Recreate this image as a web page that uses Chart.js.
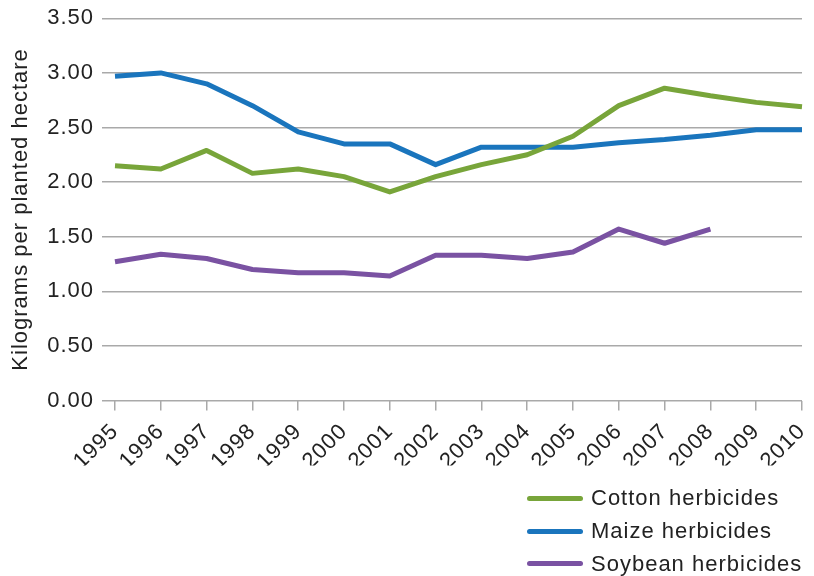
<!DOCTYPE html>
<html>
<head>
<meta charset="utf-8">
<script src="https://cdn.jsdelivr.net/npm/chart.js@4.4.1/dist/chart.umd.min.js"></script>
<style>
  html, body { margin: 0; padding: 0; background: #fff; }
  #wrap { position: relative; width: 814px; height: 576px; }
  #legend { position: absolute; left: 527px; top: 482px; font-family: "Liberation Sans", Arial, sans-serif; font-size: 22px; letter-spacing: 1px; color: #222; }
  .item { display: flex; align-items: center; height: 32.7px; }
  .swatch { width: 56px; height: 5px; border-radius: 3px; margin-right: 8px; }
</style>
</head>
<body>
<div id="wrap">
  <canvas id="c" width="814" height="576"></canvas>
  <div id="legend"></div>
</div>
<script>
const years = ['1995','1996','1997','1998','1999','2000','2001','2002','2003','2004','2005','2006','2007','2008','2009','2010'];
const cotton = [2.15, 2.12, 2.29, 2.08, 2.12, 2.05, 1.91, 2.05, 2.16, 2.25, 2.42, 2.70, 2.86, 2.79, 2.73, 2.69];
const maize = [2.97, 3.00, 2.90, 2.70, 2.46, 2.35, 2.35, 2.16, 2.32, 2.32, 2.32, 2.36, 2.39, 2.43, 2.48, 2.48];
const soybean = [1.27, 1.34, 1.30, 1.20, 1.17, 1.17, 1.14, 1.33, 1.33, 1.30, 1.36, 1.57, 1.44, 1.57, null, null];
const yTicks = [0, 0.5, 1.0, 1.5, 2.0, 2.5, 3.0, 3.5];
const seriesNames = ['Cotton herbicides', 'Maize herbicides', 'Soybean herbicides'];
const seriesColors = ['#78A53A', '#1A75BD', '#7A52A2'];

const FONT = '"Liberation Sans", Arial, sans-serif';
const GRID = '#a9a9a9';

const datasets = [cotton, maize, soybean].map((d, i) => ({
  label: seriesNames[i],
  data: d,
  borderColor: seriesColors[i],
  backgroundColor: seriesColors[i],
  borderWidth: 5,
  pointRadius: 0,
  pointHoverRadius: 0,
  tension: 0,
  fill: false,
  spanGaps: false,
  borderJoinStyle: 'round'
}));

const spacing = c => { try { c.ctx.letterSpacing = '1px'; } catch (e) {} };
const spacingPlugin = { id: 'letterSpacing', beforeInit: spacing, beforeUpdate: spacing, beforeLayout: spacing, beforeDraw: spacing };

const chart = new Chart(document.getElementById('c'), {
  type: 'line',
  data: { labels: years, datasets },
  plugins: [spacingPlugin],
  options: {
    responsive: false,
    animation: false,
    layout: { padding: { top: 18.3, right: 12, bottom: 110.5, left: 0 } },
    plugins: { legend: { display: false }, tooltip: { enabled: false } },
    scales: {
      x: {
        offset: false,
        grid: { display: true, drawOnChartArea: false, drawTicks: true, tickLength: 10, color: GRID, lineWidth: 1.5 },
        border: { display: false },
        ticks: { autoSkip: false, minRotation: 45, maxRotation: 45, padding: 8, color: '#222', font: { family: FONT, size: 22 } },
        afterFit: s => { s.height = 65; s.paddingLeft = 0; s.paddingRight = 0; }
      },
      y: {
        min: 0, max: 3.5,
        afterBuildTicks: s => { s.ticks = yTicks.map(v => ({ value: v })); },
        grid: { color: GRID, lineWidth: 1.5, drawTicks: true, tickLength: 13 },
        border: { display: false },
        ticks: { padding: 8, color: '#222', font: { family: FONT, size: 22 }, callback: v => Number(v).toFixed(2) },
        title: { display: true, text: 'Kilograms per planted hectare', color: '#222', font: { family: FONT, size: 22 }, padding: { top: 8, bottom: 0 } },
        afterFit: s => { s.width = 115; s.paddingTop = 0; s.paddingBottom = 0; }
      }
    }
  }
});

const legend = document.getElementById('legend');
chart.data.datasets.forEach(ds => {
  const row = document.createElement('div');
  row.className = 'item';
  const sw = document.createElement('span');
  sw.className = 'swatch';
  sw.style.background = ds.borderColor;
  const tx = document.createElement('span');
  tx.textContent = ds.label;
  row.appendChild(sw); row.appendChild(tx);
  legend.appendChild(row);
});
</script>
</body>
</html>
